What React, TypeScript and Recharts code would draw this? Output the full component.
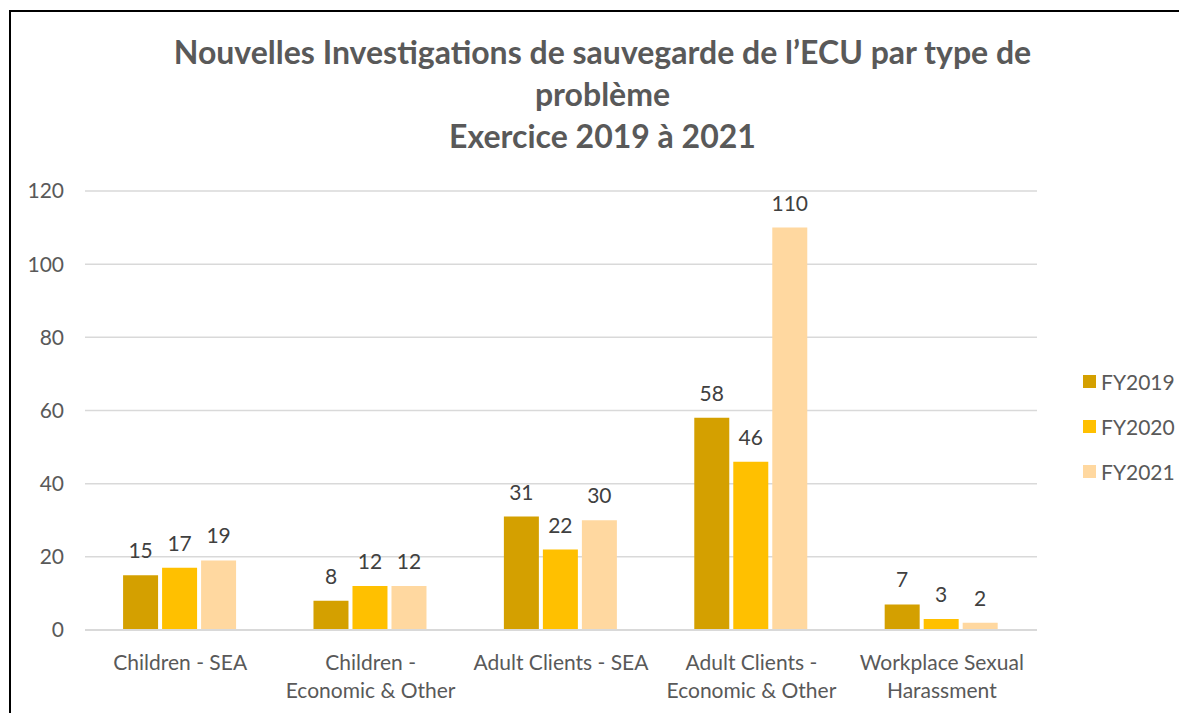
import React from "react";
import { BarChart, Bar, XAxis, YAxis, CartesianGrid, LabelList } from "recharts";

const categories = [
  "Children - SEA",
  "Children - Economic & Other",
  "Adult Clients - SEA",
  "Adult Clients - Economic & Other",
  "Workplace Sexual Harassment",
];
const categoryLines = [
  ["Children - SEA"],
  ["Children -", "Economic & Other"],
  ["Adult Clients - SEA"],
  ["Adult Clients -", "Economic & Other"],
  ["Workplace Sexual", "Harassment"],
];
const fy2019 = [15, 8, 31, 58, 7];
const fy2020 = [17, 12, 22, 46, 3];
const fy2021 = [19, 12, 30, 110, 2];
const yTicks = [0, 20, 40, 60, 80, 100, 120];
const seriesNames = ["FY2019", "FY2020", "FY2021"];
const seriesColors = ["#D4A000", "#FFC000", "#FFD8A0"];
const titleLines = [
  "Nouvelles Investigations de sauvegarde de l\u2019ECU par type de",
  "problème",
  "Exercice 2019 à 2021",
];

const data = categories.map((c, i) => ({
  name: c,
  FY2019: fy2019[i],
  FY2020: fy2020[i],
  FY2021: fy2021[i],
}));

const FONT = "Lato, 'Open Sans', sans-serif";

const XTick = (props: any) => {
  const { x, y, payload } = props;
  const idx = categories.indexOf(payload.value);
  const lines = idx >= 0 ? categoryLines[idx] : [payload.value];
  return (
    <g transform={`translate(${x},${y})`}>
      {lines.map((l: string, k: number) => (
        <text
          key={k}
          x={0}
          y={32 + k * 28}
          textAnchor="middle"
          fill="#595959"
          fontSize={21}
          fontFamily={FONT}
        >
          {l}
        </text>
      ))}
    </g>
  );
};

export default function App() {
  return (
    <div style={{ position: "absolute", left: 0, top: 0, width: 1179, height: 713, background: "#fff", overflow: "hidden" }}>
      <div
        style={{
          position: "absolute",
          left: 9,
          top: 10,
          width: 1200,
          height: 720,
          borderLeft: "2px solid #000",
          borderTop: "2px solid #000",
        }}
      />
      <div
        style={{
          position: "absolute",
          left: 0,
          top: 31,
          width: 1205,
          textAlign: "center",
          fontFamily: FONT,
          fontWeight: 700,
          fontSize: 32,
          lineHeight: "42px",
          color: "#595959",
        }}
      >
        {titleLines.map((t) => (
          <div key={t}>{t}</div>
        ))}
      </div>
      <div style={{ position: "absolute", left: 0, top: 0 }}>
        <BarChart
          width={1179}
          height={713}
          data={data}
          margin={{ top: 191, right: 142, left: 25, bottom: 0 }}
          barCategoryGap="20%"
          barGap={4}
        >
          <CartesianGrid vertical={false} stroke="#d9d9d9" strokeWidth={1.5} />
          <XAxis
            dataKey="name"
            axisLine={{ stroke: "#d9d9d9", strokeWidth: 2 }}
            tickLine={false}
            height={83}
            tick={<XTick />}
            interval={0}
          />
          <YAxis
            width={60}
            domain={[0, 120]}
            ticks={yTicks}
            axisLine={false}
            tickLine={false}
            tickSize={0}
            tickMargin={21}
            tick={{ fill: "#595959", fontSize: 21, fontFamily: FONT }}
          />
          {seriesNames.map((n, i) => (
            <Bar key={n} dataKey={n} fill={seriesColors[i]} isAnimationActive={false}>
              <LabelList
                dataKey={n}
                position="top"
                offset={17}
                fill="#404040"
                fontSize={21}
                fontFamily={FONT}
              />
            </Bar>
          ))}
        </BarChart>
      </div>
      <div style={{ position: "absolute", left: 1083, top: 359, fontFamily: FONT }}>
        {seriesNames.map((n, i) => (
          <div
            key={n}
            style={{ display: "flex", alignItems: "center", height: 45, color: "#595959", fontSize: 21 }}
          >
            <span
              style={{ display: "inline-block", width: 13, height: 13, background: seriesColors[i], marginRight: 5 }}
            />
            {n}
          </div>
        ))}
      </div>
    </div>
  );
}
